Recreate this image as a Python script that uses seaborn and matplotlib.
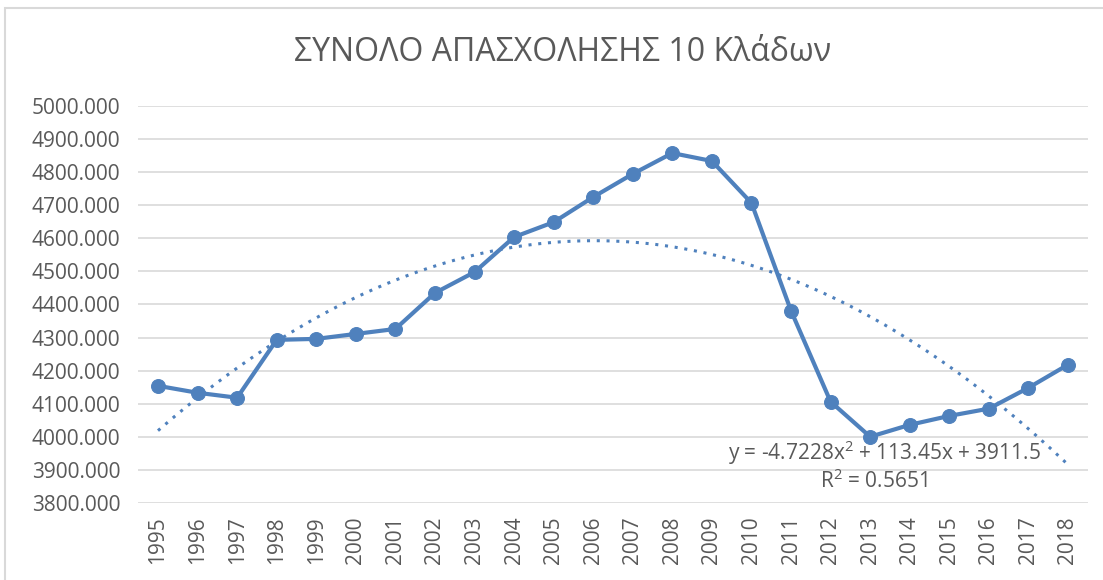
import matplotlib
matplotlib.use("Agg")
import matplotlib.pyplot as plt
import numpy as np
import pandas as pd
import seaborn as sns
from matplotlib.patches import Rectangle

years = list(range(1995, 2019))
employment = [4154, 4133, 4118, 4293, 4296, 4311, 4326, 4435, 4498, 4604, 4649, 4725,
              4795, 4858, 4834, 4707, 4381, 4106, 4000, 4036, 4063, 4085, 4148, 4218]
y_ticks = [3800, 3900, 4000, 4100, 4200, 4300, 4400, 4500, 4600, 4700, 4800, 4900, 5000]
title = "ΣΥΝΟΛΟ ΑΠΑΣΧΟΛΗΣΗΣ 10 Κλάδων"
eq_text = "y = -4.7228x$^2$ + 113.45x + 3911.5"
r2_text = "R$^2$ = 0.5651"

blue = "#4F81BD"
grey = "#595959"

sns.set_theme(style="white")
plt.rcParams['font.family'] = ['Open Sans', 'DejaVu Sans']
plt.rcParams['mathtext.fontset'] = 'custom'
plt.rcParams['mathtext.rm'] = 'Open Sans'

df = pd.DataFrame({"pos": np.arange(len(years)), "value": employment})

fig = plt.figure(figsize=(11.03, 5.80), dpi=100)
fig.patches.append(Rectangle((0.0045, -0.05), 1.1, 1.036, transform=fig.transFigure,
                             fill=False, edgecolor="#d9d9d9", linewidth=1.5))
ax = fig.add_axes([0.1253, 0.133, 0.8609, 0.684])

# excel-style 2nd order polynomial trendline (x = 1..n)
xs = np.arange(1, len(years) + 1)
coef = np.polyfit(xs, employment, 2)
xfine = np.linspace(1, len(years), 200)
ax.plot(xfine - 1, np.polyval(coef, xfine), linestyle=(0, (1, 2.2)), color=blue,
        linewidth=2.2, zorder=2)

sns.lineplot(data=df, x="pos", y="value", ax=ax, color=blue, linewidth=3,
             marker="o", markersize=10, markeredgecolor=blue, zorder=3)

ax.set_xlim(-0.5, len(years) - 0.5)
ax.set_ylim(3800, 5000)
ax.set_yticks(y_ticks)
ax.set_yticklabels([f"{v:.3f}" for v in y_ticks], color=grey, fontsize=15)
ax.set_xticks(df["pos"])
ax.set_xticklabels([str(y) for y in years], rotation=90, color=grey, fontsize=15)
ax.tick_params(axis="y", length=0, pad=13)
ax.tick_params(axis="x", length=0, pad=10)
ax.grid(axis="y", color="#d9d9d9", linewidth=1.2)
for s in ax.spines.values():
    s.set_visible(False)
ax.set_xlabel("")
ax.set_ylabel("")

ax.text(18.36, 3952, eq_text, ha="center", va="center", fontsize=15, color=grey)
ax.text(18.1, 3866, r2_text, ha="center", va="center", fontsize=15, color=grey)

fig.text(0.51, 0.91, title, ha="center", va="center", fontsize=23, color=grey)

fig.savefig("out.png", dpi=100)
